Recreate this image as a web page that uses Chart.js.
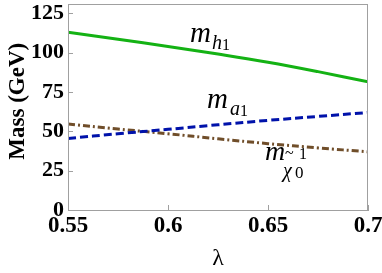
<!DOCTYPE html>
<html><head><meta charset="utf-8">
<script src="https://cdn.jsdelivr.net/npm/chart.js@4.4.1/dist/chart.umd.min.js"></script>
<style>html,body{margin:0;padding:0;background:#fff;}#wrap{width:382px;height:273px;}</style>
</head><body><div id="wrap"><canvas id="c" width="382" height="273"></canvas></div>
<script>
const lambdaVals = [0.55, 0.575, 0.6, 0.625, 0.65, 0.675, 0.7];
const mh1 = [113, 108.6, 104, 99.2, 94, 88, 81.5];
const ma1 = [45.5, 48.5, 51.3, 54.2, 57, 59.5, 62];
const mchi = [54.7, 51.5, 48.5, 45.3, 42.2, 39.5, 37];
const xTicks = [0.55, 0.6, 0.65, 0.7];
const xTickLabels = ['0.55', '0.6', '0.65', '0.7'];
const yTicks = [0, 25, 50, 75, 100, 125];

const pts = arr => arr.map((v, i) => ({x: lambdaVals[i], y: v}));
const SERIF = "'Liberation Serif', 'DejaVu Serif', serif";
const GREY = '#a0a0a0';

const framePlugin = {
  id: 'frame',
  afterDraw(chart) {
    const {ctx, chartArea: a, scales: {x, y}} = chart;
    ctx.save();
    ctx.strokeStyle = GREY;
    ctx.lineWidth = 1;
    ctx.strokeRect(a.left + 0.5, a.top + 0.5, a.right - a.left - 1, a.bottom - a.top);
    ctx.beginPath();
    yTicks.forEach(v => { const py = Math.round(y.getPixelForValue(v)) + 0.5; ctx.moveTo(a.left, py); ctx.lineTo(a.left + 5, py); });
    xTicks.forEach(v => { const px = Math.round(x.getPixelForValue(v)) + 0.5; ctx.moveTo(px, a.bottom); ctx.lineTo(px, a.bottom - 5); });
    ctx.stroke();
    // annotations
    ctx.fillStyle = '#000';
    ctx.textBaseline = 'alphabetic';
    const put = (t, font, vx, vy, dx, dy) => {
      ctx.font = font;
      ctx.fillText(t, x.getPixelForValue(vx) + dx, y.getPixelForValue(vy) + dy);
    };
    // m_{h1}
    put('m', 'italic 29px ' + SERIF, 0.611, 106.6, 0, 0);
    put('h', 'italic 20px ' + SERIF, 0.611, 106.6, 22, 7);
    put('1', '16px ' + SERIF, 0.611, 106.6, 32, 8);
    // m_{a1}
    put('m', 'italic 29px ' + SERIF, 0.6195, 65, 0, 0);
    put('a', 'italic 20px ' + SERIF, 0.6195, 65, 23, 7);
    put('1', '16px ' + SERIF, 0.6195, 65, 33, 8);
    // m_{chi}
    put('m', 'italic 28px ' + SERIF, 0.6485, 32, 0, 0);
    put('~', '16px ' + SERIF, 0.6485, 32, 20, -2);
    put('1', '16px ' + SERIF, 0.6485, 32, 34, -1);
    put('χ', 'italic 20px ' + SERIF, 0.6485, 32, 18, 17);
    put('0', '17px ' + SERIF, 0.6485, 32, 30, 18);
    ctx.restore();
  }
};

new Chart(document.getElementById('c'), {
  type: 'line',
  data: {
    datasets: [
      {data: pts(mh1), borderColor: 'rgb(20,178,20)', borderWidth: 3, pointRadius: 0, tension: 0.4, fill: false},
      {data: pts(ma1), borderColor: 'rgb(0,18,170)', borderWidth: 3, borderDash: [8, 4], pointRadius: 0, tension: 0.4, fill: false},
      {data: pts(mchi), borderColor: 'rgb(112,78,42)', borderWidth: 3, borderDash: [7, 3, 2, 3], pointRadius: 0, tension: 0.4, fill: false}
    ]
  },
  options: {
    responsive: false,
    animation: false,
    devicePixelRatio: 1,
    layout: {padding: {top: 4, right: 14, left: 0, bottom: 0}},
    plugins: {legend: {display: false}, tooltip: {enabled: false}},
    scales: {
      x: {
        type: 'linear', min: 0.55, max: 0.7,
        afterBuildTicks: s => { s.ticks = xTicks.map(v => ({value: v})); },
        afterFit: s => { s.height = 63; s.paddingLeft = 0; s.paddingRight = 0; },
        ticks: {callback: (v) => xTickLabels[xTicks.indexOf(v)] ?? '', color: '#000', font: {family: SERIF, weight: 'bold', size: 23}, padding: 2, maxRotation: 0, autoSkip: false},
        grid: {display: false, drawTicks: false},
        border: {display: true, color: GREY},
        title: {display: true, text: 'λ', color: '#000', font: {family: SERIF, size: 24}, padding: {top: 0, bottom: 0}}
      },
      y: {
        type: 'linear', min: 0, max: 131,
        afterBuildTicks: s => { s.ticks = yTicks.map(v => ({value: v})); },
        afterFit: s => { s.width = 68; s.paddingTop = 0; s.paddingBottom = 0; },
        ticks: {color: '#000', font: {family: SERIF, weight: 'bold', size: 22}, padding: 4},
        grid: {display: false, drawTicks: false},
        border: {display: true, color: GREY},
        title: {display: true, text: '  Mass (GeV)', color: '#000', font: {family: SERIF, weight: 'bold', size: 23}, padding: {top: 4, bottom: 4}}
      }
    }
  },
  plugins: [framePlugin]
});
</script></body></html>
